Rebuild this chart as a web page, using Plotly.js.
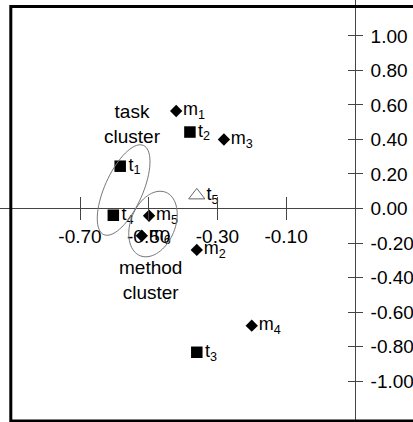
<!DOCTYPE html>
<html>
<head>
<meta charset="utf-8">
<script src="https://cdn.plot.ly/plotly-3.0.1.min.js"></script>
<style>html,body{margin:0;padding:0;background:#fff;}#chart{width:413px;height:422px;}</style>
</head>
<body>
<div id="chart"></div>
<script>
// Task points (squares)
var taskNames = ['t<sub>1</sub>', 't<sub>2</sub>', 't<sub>3</sub>', 't<sub>4</sub>'];
var taskX = [-0.583, -0.38, -0.36, -0.603];
var taskY = [0.245, 0.443, -0.833, -0.039];
// Task point t5 (open triangle)
var t5Names = ['t<sub>5</sub>'];
var t5X = [-0.36];
var t5Y = [0.076];
// Method points (diamonds)
var methodNames = ['m<sub>1</sub>', 'm<sub>2</sub>', 'm<sub>3</sub>', 'm<sub>4</sub>', 'm<sub>5</sub>', 'm<sub>6</sub>'];
var methodX = [-0.42, -0.36, -0.281, -0.20, -0.499, -0.52];
var methodY = [0.565, -0.24, 0.40, -0.679, -0.042, -0.158];
// Axis ticks
var xTickVals = [-0.70, -0.50, -0.30, -0.10];
var xTickText = ['-0.70', '-0.50', '-0.30', '-0.10'];
var yTickVals = [1.00, 0.80, 0.60, 0.40, 0.20, 0.00, -0.20, -0.40, -0.60, -0.80, -1.00];
var yTickText = ['1.00', '0.80', '0.60', '0.40', '0.20', '0.00', '-0.20', '-0.40', '-0.60', '-0.80', '-1.00'];

var FONT = 'Liberation Sans, Arial, sans-serif';
var AX = '#444';

function ellipsePath(a, b, deg) {
  var th = deg * Math.PI / 180, n = 72, p = '';
  for (var i = 0; i <= n; i++) {
    var t = 2 * Math.PI * i / n;
    var x = a * Math.cos(t) * Math.cos(th) - b * Math.sin(t) * Math.sin(th);
    var y = a * Math.cos(t) * Math.sin(th) + b * Math.sin(t) * Math.cos(th);
    p += (i === 0 ? 'M' : 'L') + x.toFixed(2) + ',' + y.toFixed(2);
  }
  return p + 'Z';
}

var txtFont = {family: FONT, size: 18, color: '#000'};

var traces = [
  {x: taskX, y: taskY, text: taskNames, mode: 'markers+text', type: 'scatter',
   textposition: 'middle right', textfont: txtFont, cliponaxis: false,
   marker: {symbol: 'square', size: 11.5, color: '#000'}},
  {x: t5X, y: t5Y, text: t5Names, mode: 'markers+text', type: 'scatter',
   textposition: 'middle right', textfont: txtFont, cliponaxis: false,
   marker: {symbol: 'triangle-up-open', size: 14, color: '#666', line: {width: 1, color: '#666'}}},
  {x: methodX, y: methodY, text: methodNames, mode: 'markers+text', type: 'scatter',
   textposition: 'middle right', textfont: txtFont, cliponaxis: false,
   marker: {symbol: 'diamond', size: 9.5, color: '#000'}},
  {x: [], y: [], xaxis: 'x2', yaxis: 'y2', type: 'scatter', mode: 'markers', hoverinfo: 'skip'}
];

var xdom = [0, 354.8 / 413];
var xr = [-0.9329, 0.10];
var yr = [-1.237, 1.208];
var xpos = 1.237 / 2.445;
var ypos = 354.8 / 413;

var layout = {
  width: 413, height: 422,
  margin: {l: 0, r: 0, t: 0, b: 0},
  paper_bgcolor: '#fff', plot_bgcolor: 'rgba(0,0,0,0)',
  showlegend: false,
  font: {family: FONT, size: 18, color: '#000'},
  xaxis: {domain: xdom, range: xr, anchor: 'free', position: xpos,
    showgrid: false, zeroline: false, showline: true, linecolor: AX, linewidth: 1,
    ticks: 'outside', ticklen: 11, tickcolor: AX, tickwidth: 1,
    tickvals: xTickVals, ticktext: xTickText, tickfont: {family: FONT, size: 19, color: '#000'}},
  xaxis2: {domain: xdom, range: xr, overlaying: 'x', anchor: 'free', position: xpos,
    showgrid: false, zeroline: false, showline: false,
    ticks: 'inside', ticklen: 11, tickcolor: AX, tickwidth: 1,
    tickvals: xTickVals, showticklabels: false},
  yaxis: {domain: [0, 1], range: yr, anchor: 'free', position: ypos, side: 'right',
    showgrid: false, zeroline: false, showline: true, linecolor: AX, linewidth: 1,
    ticks: 'outside', ticklen: 7, tickcolor: AX, tickwidth: 1, ticklabelstandoff: 4,
    tickvals: yTickVals, ticktext: yTickText, tickfont: {family: FONT, size: 19, color: '#000'}},
  yaxis2: {domain: [0, 1], range: yr, overlaying: 'y', anchor: 'free', position: ypos, side: 'right',
    showgrid: false, zeroline: false, showline: false,
    ticks: 'inside', ticklen: 7, tickcolor: AX, tickwidth: 1,
    tickvals: yTickVals, showticklabels: false},
  annotations: [
    {x: -0.547, y: 0.491, xref: 'x', yref: 'y', text: 'task<br>cluster', showarrow: false,
     font: {family: FONT, size: 19, color: '#000'}},
    {x: -0.495, y: -0.416, xref: 'x', yref: 'y', text: 'method<br>cluster', showarrow: false,
     font: {family: FONT, size: 19, color: '#000'}}
  ],
  shapes: [
    {type: 'path', xref: 'x', yref: 'y', xsizemode: 'pixel', ysizemode: 'pixel',
     xanchor: -0.573, yanchor: 0.107, path: ellipsePath(48.8, 19, 66),
     line: {color: '#777', width: 1}},
    {type: 'path', xref: 'x', yref: 'y', xsizemode: 'pixel', ysizemode: 'pixel',
     xanchor: -0.4875, yanchor: -0.09, path: ellipsePath(34.2, 22.2, 68),
     line: {color: '#777', width: 1}},
    {type: 'rect', xref: 'paper', yref: 'paper', x0: 10.8 / 413, x1: 1.02, y0: 1 / 422, y1: 1 - 6.5 / 422,
     line: {color: '#000', width: 3}, layer: 'above'}
  ]
};

Plotly.newPlot('chart', traces, layout, {staticPlot: true, displayModeBar: false});
</script>
</body>
</html>
